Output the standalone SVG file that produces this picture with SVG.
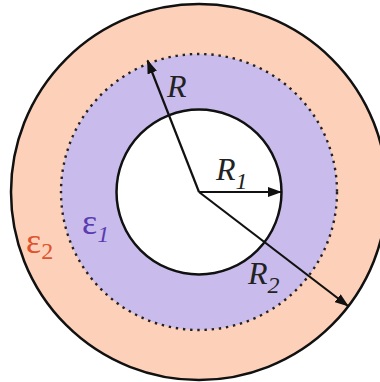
<svg xmlns="http://www.w3.org/2000/svg" width="380" height="382" viewBox="0 0 380 382">
<defs>
<marker id="ah" markerWidth="14" markerHeight="10" refX="13" refY="5" orient="auto" markerUnits="userSpaceOnUse">
<path d="M0,0 L14,5 L0,10 Z" fill="#111"/>
</marker>
<style>
.lbl{font-family:"Liberation Serif","Times New Roman",serif;font-style:italic;font-size:32px;fill:#222}
.sub{font-size:24px}
.eps{font-family:"Liberation Serif","Times New Roman",serif;font-size:36px}
.conn{stroke:#111;stroke-width:2.2;fill:none}
</style>
</defs>
<rect width="380" height="382" fill="#fff"/>
<g id="outer">
<circle cx="199" cy="192" r="188" fill="#FDD1B9" stroke="#111" stroke-width="2.5"/>
</g>
<g id="boundary">
<circle cx="199" cy="192" r="138" fill="#C9BCEC"/>
<circle cx="199" cy="192" r="138" fill="none" stroke="#222" stroke-width="2.4" stroke-dasharray="2.4 4.8"/>
</g>
<g id="inner">
<circle cx="199" cy="192" r="82.5" fill="#fff" stroke="#111" stroke-width="2.5"/>
</g>
<g id="connectors">
<line class="conn" x1="199" y1="192" x2="147.5" y2="60.5" marker-end="url(#ah)"/>
<line class="conn" x1="199" y1="192" x2="281" y2="192" marker-end="url(#ah)"/>
<line class="conn" x1="199" y1="192" x2="348" y2="306" marker-end="url(#ah)"/>
</g>
<g id="labels">
<text class="lbl" x="167" y="97">R</text>
<text class="lbl" x="216" y="180">R<tspan class="sub" dy="9">1</tspan></text>
<text class="lbl" x="248" y="284">R<tspan class="sub" dy="9">2</tspan></text>
<text class="eps" x="82" y="234" fill="#5A3CB0">ε<tspan class="lbl sub" dy="8" style="fill:#5A3CB0">1</tspan></text>
<text class="eps" x="26" y="253" fill="#E0522C">ε<tspan class="sub" dy="6" style="fill:#E0522C">2</tspan></text>
</g>
</svg>
